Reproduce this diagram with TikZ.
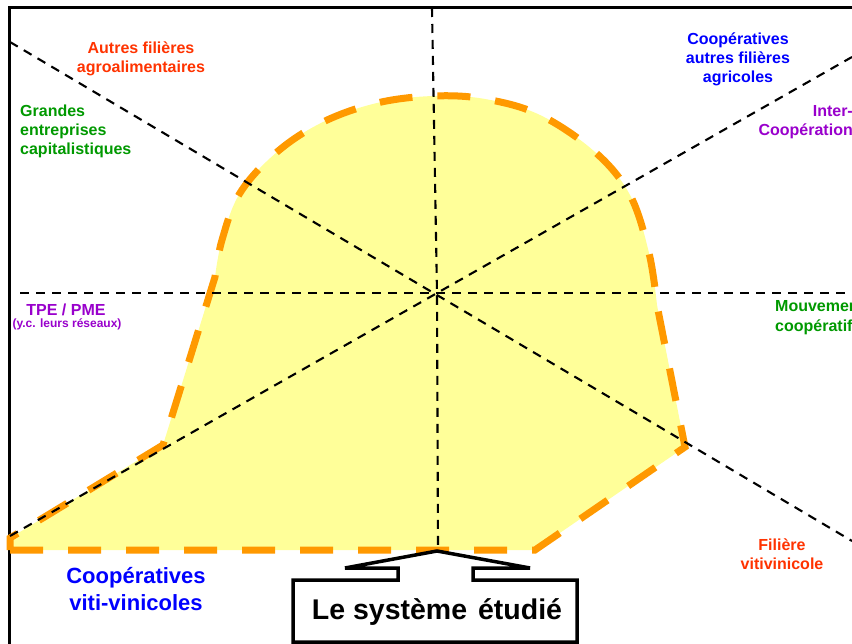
\documentclass[tikz,border=0pt]{standalone}
\usepackage{fontspec}
\setmainfont{Liberation Sans}
\definecolor{fillyel}{HTML}{FFFF99}
\definecolor{bordor}{HTML}{FF9900}
\definecolor{txtred}{HTML}{FF3300}
\definecolor{txtgreen}{HTML}{009900}
\definecolor{txtblue}{HTML}{0000FF}
\definecolor{txtpurple}{HTML}{9900CC}
\tikzset{
  axis/.style={black, line width=2.1pt, dash pattern=on 9pt off 7pt},
  blob/.style={fill=fillyel, draw=bordor, line width=7pt, dash pattern=on 33pt off 25pt},
  lab/.style={font=\bfseries\fontsize{16}{19}\selectfont, align=center, inner sep=0pt},
  biglab/.style={font=\bfseries\fontsize{22}{27}\selectfont, align=center, inner sep=0pt},
}
\begin{document}
\begin{tikzpicture}[x=1pt,y=-1pt]
\useasboundingbox (0,0) rectangle (852,644);
\clip (0,0) rectangle (852,644);
\fill[white] (0,0) rectangle (852,644);
% frame
\draw[line width=3pt] (9,8) rectangle (900,700);
% blob
\path[blob] (10,550) -- (535,550) -- (685,447) -- (657,305)
  -- plot[smooth, tension=0.6] coordinates {(657,305) (649,253) (630,195) (595,152) (540,115) (485,99) (433,96) (377,103) (323,122) (277,152) (240,193) (222,240) (215,277)}
  -- (163,445) -- (10,538) -- cycle;
% axes
\coordinate (c) at (437,293);
\coordinate (vt) at (432,8);
\coordinate (vb) at (438,550);
\coordinate (hl) at (20,293);
\coordinate (hr) at (852,293);
\coordinate (d1a) at (10,42);
\coordinate (d1b) at (852,541);
\coordinate (d2a) at (10,536);
\coordinate (d2b) at (852,57);
\draw[axis] (vt) -- (c) -- (vb);
\draw[axis] (hl) -- (hr);
\draw[axis] (d1a) -- (d1b);
\draw[axis] (d2a) -- (d2b);
% labels
\node[lab, txtred] (agro) at (141,59) {Autres filières\\agroalimentaires};
\node[lab, txtgreen, align=left, anchor=west] (grand) at (20,131) {Grandes\\entreprises\\capitalistiques};
\node[lab, txtblue] (coopagr) at (738,59) {Coopératives\\autres filières\\agricoles};
\node[lab, txtpurple, align=right, anchor=east] (inter) at (853,122) {Inter-\\Coopération};
\node[lab, txtpurple] (tpe) at (66,310) {TPE / PME};
\node[font=\bfseries\fontsize{12}{14}\selectfont, txtpurple, inner sep=0pt] (tpe2) at (67,324) {(y.c. leurs réseaux)};
\node[lab, txtgreen, align=left, anchor=west, font=\bfseries\fontsize{16}{20}\selectfont] (mouv) at (775,318) {Mouvement\\coopératif};
\node[lab, txtred] (fil) at (782,554) {Filière\\vitivinicole};
\node[biglab, txtblue] (coopviti) at (136,589) {Coopératives\\viti-vinicoles};
% callout
\draw[line width=3.5pt, fill=white, line join=miter] (293,580) -- (398,580) -- (398,568) -- (345,568) -- (437,551) -- (530,568) -- (473,568) -- (473,580) -- (577,580) -- (577,642) -- (293,642) -- cycle;
\node[font=\bfseries\fontsize{28.5}{30}\selectfont, inner sep=0pt] (sys) at (437,612) {Le système\hspace{11pt}étudié};
\end{tikzpicture}
\end{document}
